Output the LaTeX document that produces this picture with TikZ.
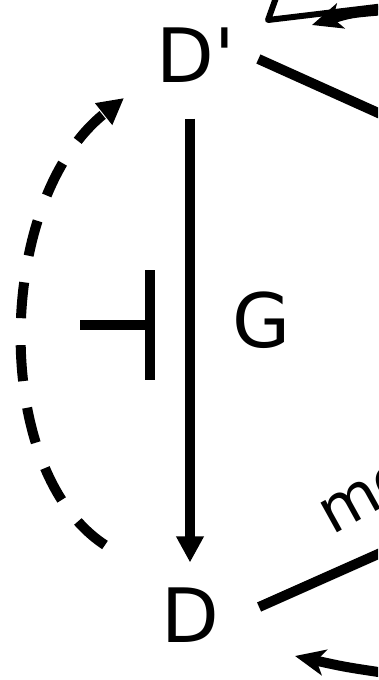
\documentclass[tikz,border=0pt]{standalone}
\usepackage{fontspec}
\setmainfont{DejaVu Sans}
\usetikzlibrary{arrows.meta}

\tikzset{
  lbl/.style={font=\fontsize{75}{90}\selectfont, inner sep=0pt},
  edgelbl/.style={font=\fontsize{62}{74}\selectfont, inner sep=0pt},
  bond/.style={line width=10pt},
  act/.style={line width=10pt, -{Triangle[length=26pt,width=26pt]}},
  feedback/.style={line width=10pt, dash pattern=on 36pt off 27pt, -{Triangle[length=26pt,width=26pt]}},
  curly/.style={line width=10pt, -{Stealth[length=30pt,width=26pt,inset=8pt]}},
}

\begin{document}
\begin{tikzpicture}[x=1pt,y=-1pt]
\useasboundingbox (0,0) rectangle (378,680);
\clip (0,0) rectangle (378,680);

% labels
\node[lbl] (Dp) at (196,55) {D\textquotesingle};
\node[lbl] (D) at (190,615) {D};
\node[lbl] (G) at (262,320) {G};

% off-picture ends
\coordinate (upR) at (385,116);
\coordinate (lowR) at (385,551);
\coordinate (arcS) at (105,545);
\coordinate (arcE) at (124,98);

% D' -> D
\draw[act, shorten <=36pt, shorten >=25pt] (D |- Dp.south) -- (D.north);

% inhibition bar
\draw[bond] (80,325) -- (150,325);
\draw[bond] (150,270) -- (150,380);

% dashed return
\draw[feedback] (arcS) .. controls (-10,470) and (-5,200) .. (arcE);

% lines leaving to the right
\draw[bond] ([shift={(23,4)}]Dp.east) -- (upR);
\draw[bond] ([shift={(40,-8)}]D.east) -- (lowR);
\node[edgelbl, rotate=29, anchor=base west] (mo) at (332,536) {mo};

% top and bottom
\draw[line width=6pt, line join=round] (277,-5) -- (268,20) -- (385,6);
\draw[curly] (385,10) .. controls (350,13) .. (312,25);
\draw[curly] (385,673) .. controls (345,667) .. (295,656);
\end{tikzpicture}
\end{document}
